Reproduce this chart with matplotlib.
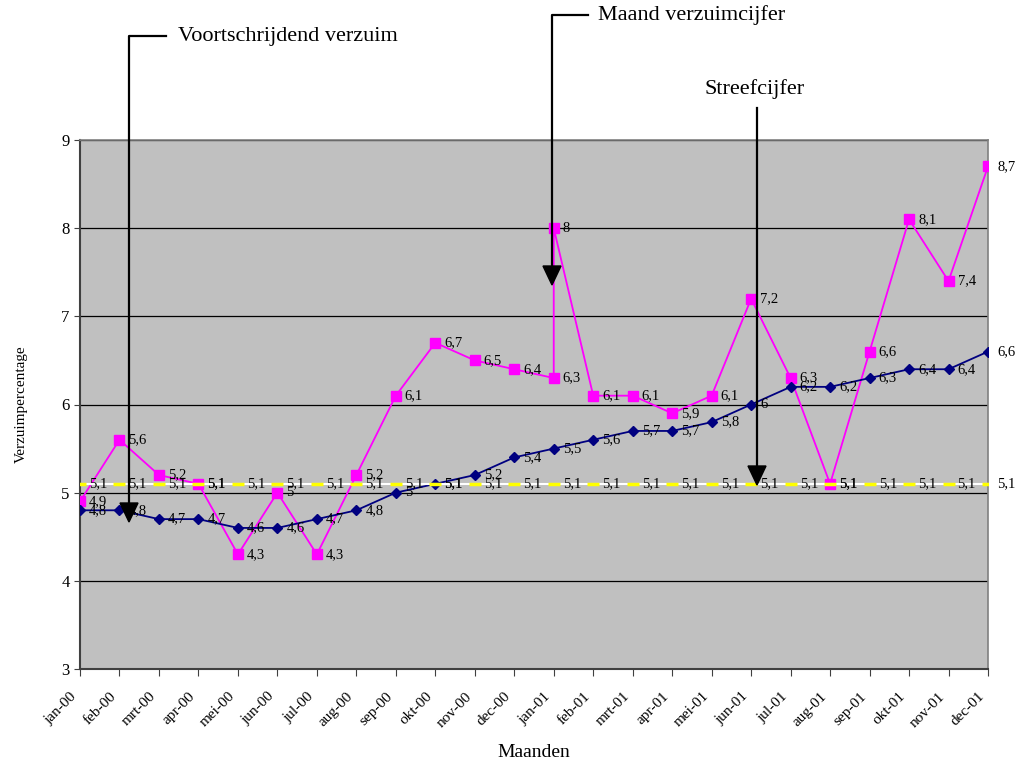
import numpy as np
import matplotlib
matplotlib.use('Agg')
import matplotlib.pyplot as plt
import matplotlib.transforms as mtransforms
from matplotlib.lines import Line2D
from matplotlib.patches import Polygon

#---------------------------------------------------------------------------------------------------
# Data
#---------------------------------------------------------------------------------------------------

maanden = ['jan-00', 'feb-00', 'mrt-00', 'apr-00', 'mei-00', 'jun-00', 'jul-00', 'aug-00',
           'sep-00', 'okt-00', 'nov-00', 'dec-00', 'jan-01', 'feb-01', 'mrt-01', 'apr-01',
           'mei-01', 'jun-01', 'jul-01', 'aug-01', 'sep-01', 'okt-01', 'nov-01', 'dec-01']

# Maand verzuimcijfer (jan-01 holds two values: 6,3 and 8)
maand_pos = [0, 1, 2, 3, 4, 5, 6, 7, 8, 9, 10, 11, 12, 12, 13, 14, 15, 16, 17, 18, 19, 20, 21, 22, 23]
maand_val = [4.9, 5.6, 5.2, 5.1, 4.3, 5.0, 4.3, 5.2, 6.1, 6.7, 6.5, 6.4, 6.3, 8.0,
             6.1, 6.1, 5.9, 6.1, 7.2, 6.3, 5.1, 6.6, 8.1, 7.4, 8.7]

# Voortschrijdend verzuim
voort_val = [4.8, 4.8, 4.7, 4.7, 4.6, 4.6, 4.7, 4.8, 5.0, 5.1, 5.2, 5.4,
             5.5, 5.6, 5.7, 5.7, 5.8, 6.0, 6.2, 6.2, 6.3, 6.4, 6.4, 6.6]

# Streefcijfer
streef_val = [5.1] * 24


def nl(v):
    # Dutch decimal comma
    s = ('%.1f' % v).rstrip('0').rstrip('.')
    return s.replace('.', ',')


#---------------------------------------------------------------------------------------------------
# Figure
#---------------------------------------------------------------------------------------------------

plt.rcParams['font.family'] = ['Liberation Serif', 'DejaVu Serif']

W, H = 1025, 765
fig = plt.figure(figsize=(W / 100, H / 100), dpi=100)
ax = fig.add_axes([80 / W, 1 - 669 / H, (988 - 80) / W, (669 - 140) / H])
ax.set_facecolor('#C0C0C0')

x = np.arange(len(maanden))

ax.plot(maand_pos, maand_val, color='#FF00FF', lw=1.3, marker='s', ms=7, zorder=3)
ax.plot(x, voort_val, color='#000080', lw=1.3, marker='D', ms=5.5, zorder=4)
ax.plot(x, streef_val, color='white', lw=1.5, marker='_', ms=9, mew=2.5,
        mec='#FFFF00', zorder=5)

# data labels
lab = dict(fontsize=10.5, va='center', ha='left', zorder=6, textcoords='offset points', clip_on=False)
for p, v in zip(maand_pos, maand_val):
    ax.annotate(nl(v), (p, v), xytext=(6.5, 0), **lab)
for p, v in zip(x, voort_val):
    ax.annotate(nl(v), (p, v), xytext=(6.5, 0), **lab)
for p, v in zip(x, streef_val):
    ax.annotate(nl(v), (p, v), xytext=(6.5, 0), **lab)

ax.set_xlim(0, 23)
ax.set_ylim(3, 9)
ax.set_yticks(range(3, 10))
ax.yaxis.grid(True, color='black', lw=0.9)
ax.set_axisbelow(True)
ax.set_xticks(x)
ax.set_xticklabels(maanden, rotation=45, ha='right', rotation_mode='anchor', fontsize=11)
ax.tick_params(axis='y', labelsize=12, length=4, color='#404040')
ax.tick_params(axis='x', length=5, color='#404040', pad=10)
shift = mtransforms.ScaledTranslation(-10 / 100, 0, fig.dpi_scale_trans)
for t in ax.get_xticklabels():
    t.set_transform(t.get_transform() + shift)
for s in ['left', 'bottom']:
    ax.spines[s].set_color('#404040')
    ax.spines[s].set_linewidth(1.5)
for s in ['top', 'right']:
    ax.spines[s].set_color('#808080')
    ax.spines[s].set_linewidth(1.2)

ax.set_xlabel('Maanden', fontsize=14, labelpad=10)
ax.set_ylabel('Verzuimpercentage', fontsize=11, labelpad=24)


#---------------------------------------------------------------------------------------------------
# Callout arrows (figure pixel coordinates)
#---------------------------------------------------------------------------------------------------

def fx(px):
    return px / W


def fy(py):
    return 1 - py / H


def callout(xs, ys, tip_x, tip_y, text, tx, ty):
    fig.add_artist(Line2D([fx(v) for v in xs], [fy(v) for v in ys], color='black', lw=1.6))
    head = [(fx(tip_x - 9), fy(tip_y - 19)), (fx(tip_x + 9), fy(tip_y - 19)), (fx(tip_x), fy(tip_y))]
    fig.add_artist(Polygon(head, closed=True, color='black'))
    fig.text(fx(tx), fy(ty), text, fontsize=16, va='center', ha='left')


callout([166, 129, 129], [36, 36, 505], 129, 522, 'Voortschrijdend verzuim', 178, 36)
callout([588, 552, 552], [15, 15, 268], 552, 285, 'Maand verzuimcijfer', 598, 15)
callout([757, 757], [108, 468], 757, 485, '', 0, 0)
fig.text(fx(755), fy(89), 'Streefcijfer', fontsize=16, va='center', ha='center')

fig.savefig('out.png', dpi=100)
